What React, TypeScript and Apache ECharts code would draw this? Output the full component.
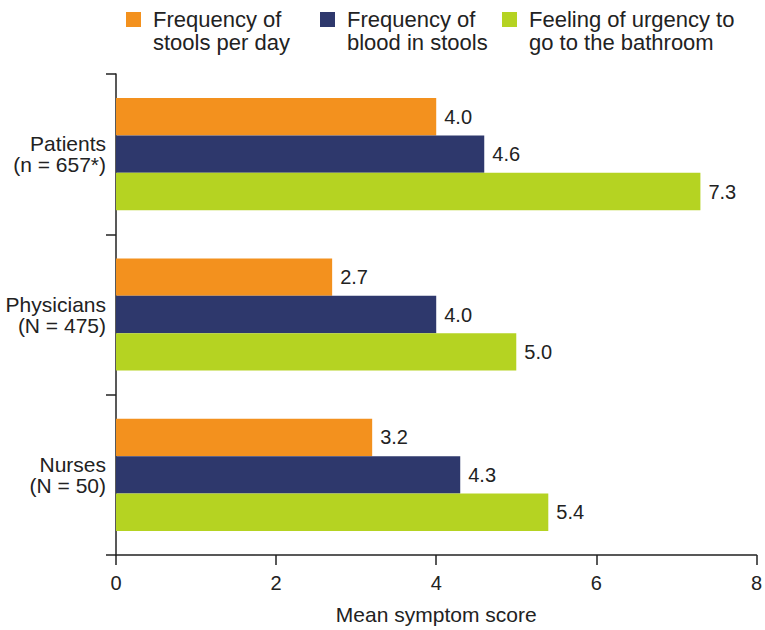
import React, { useEffect, useRef } from "react";
import * as echarts from "echarts";

const categories = ["Patients\n(n = 657*)", "Physicians\n(N = 475)", "Nurses\n(N = 50)"];
const seriesNames = ["Frequency of\nstools per day", "Frequency of\nblood in stools", "Feeling of urgency to\ngo to the bathroom"];
const stoolsPerDay = [4.0, 2.7, 3.2];
const bloodInStools = [4.6, 4.0, 4.3];
const urgency = [7.3, 5.0, 5.4];
const colors = ["#F3911E", "#2E386C", "#B5D322"];
const xTicks = [0, 2, 4, 6, 8];
const axisTitle = "Mean symptom score";

const legendX = [126, 320, 502];

export default function App() {
  const ref = useRef<HTMLDivElement>(null);
  useEffect(() => {
    if (!ref.current) return;
    const chart = echarts.init(ref.current, null, { renderer: "svg" });
    const values = [stoolsPerDay, bloodInStools, urgency];
    const font = "'Liberation Sans', Arial, Helvetica, sans-serif";
    const textColor = "#222";
    const graphic: any[] = [];
    seriesNames.forEach((name, i) => {
      graphic.push({
        type: "rect",
        left: legendX[i],
        top: 12,
        shape: { width: 15, height: 15 },
        style: { fill: colors[i] },
      });
      graphic.push({
        type: "text",
        left: legendX[i] + 27,
        top: 8,
        style: {
          text: name,
          fontSize: 22,
          lineHeight: 23,
          fontFamily: font,
          fill: textColor,
        },
      });
    });
    chart.setOption({
      animation: false,
      textStyle: { fontFamily: font, color: textColor },
      grid: { left: 116, right: 8, top: 74, bottom: 69, containLabel: false },
      graphic,
      xAxis: {
        type: "value",
        min: xTicks[0],
        max: xTicks[xTicks.length - 1],
        interval: 2,
        name: axisTitle,
        nameLocation: "middle",
        nameGap: 49,
        nameTextStyle: { fontSize: 21, color: textColor, fontFamily: font },
        axisLine: { show: true, lineStyle: { color: "#222", width: 1.5 } },
        axisTick: { show: true, length: 10, lineStyle: { color: "#222", width: 1.5 } },
        axisLabel: { fontSize: 20, color: textColor, margin: 18, fontFamily: font },
        splitLine: { show: false },
      },
      yAxis: {
        type: "category",
        data: categories,
        inverse: true,
        axisLine: { show: true, lineStyle: { color: "#222", width: 1.5 } },
        axisTick: { show: true, length: 10, lineStyle: { color: "#222", width: 1.5 } },
        axisLabel: {
          fontSize: 21,
          lineHeight: 21,
          color: textColor,
          margin: 10,
          align: "right",
          padding: [0, 0, 12, 0],
          fontFamily: font,
        },
      },
      series: values.map((v, i) => ({
        type: "bar",
        name: seriesNames[i],
        data: v,
        barGap: "0%",
        barCategoryGap: "30%",
        itemStyle: { color: colors[i] },
        label: {
          show: true,
          position: "right",
          distance: 8,
          fontSize: 20,
          color: textColor,
          fontFamily: font,
          formatter: (p: any) => Number(p.value).toFixed(1),
        },
      })),
    });
    return () => chart.dispose();
  }, []);
  return (
    <div
      ref={ref}
      style={{ position: "fixed", left: 0, top: 0, width: 765, height: 630, background: "#fff" }}
    />
  );
}
